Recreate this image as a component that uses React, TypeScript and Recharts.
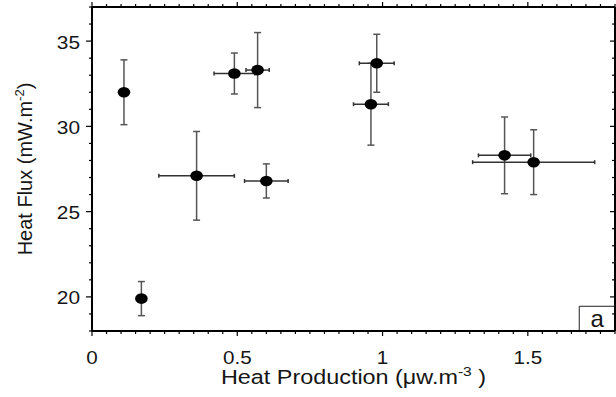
import {
  ScatterChart,
  Scatter,
  XAxis,
  YAxis,
  ErrorBar,
  ReferenceArea,
} from 'recharts';

// heat production (µW/m3) and heat flux (mW/m2) per site, with errors
const heatProduction = [0.11, 0.17, 0.36, 0.49, 0.57, 0.6, 0.98, 0.96, 1.42, 1.52];
const heatFlux = [32.0, 19.9, 27.1, 33.1, 33.3, 26.8, 33.7, 31.3, 28.3, 27.9];
const heatProductionErr = [0, 0, 0.13, 0.07, 0.04, 0.075, 0.06, 0.06, 0.09, 0.21];
const heatFluxErr = [1.9, 1.0, 2.6, 1.2, 2.2, 1.0, 1.7, 2.4, 2.25, 1.9];

const xMajorTicks = [0, 0.5, 1, 1.5];
const xTickLabels = ['0', '0.5', '1', '1.5'];
const xMinorTicks = [
  0, 0.05, 0.1, 0.15, 0.2, 0.25, 0.3, 0.35, 0.4, 0.45, 0.5, 0.55, 0.6, 0.65, 0.7, 0.75,
  0.8, 0.85, 0.9, 0.95, 1, 1.05, 1.1, 1.15, 1.2, 1.25, 1.3, 1.35, 1.4, 1.45, 1.5, 1.55,
  1.6, 1.65, 1.7, 1.75, 1.8,
];
const yMajorTicks = [20, 25, 30, 35];
const yTickLabels = ['20', '25', '30', '35'];
const yMinorTicks = [18, 19, 20, 21, 22, 23, 24, 25, 26, 27, 28, 29, 30, 31, 32, 33, 34, 35, 36, 37];

const X_DOMAIN: [number, number] = [0, 1.8];
const Y_DOMAIN: [number, number] = [18, 37];

const points = heatProduction.map((x, i) => ({
  x,
  y: heatFlux[i],
  ex: heatProductionErr[i],
  ey: heatFluxErr[i],
}));

const FONT = '"Liberation Sans", Arial, Helvetica, sans-serif';
const TXT = '#151515';

function majorIndex(list: number[], v: number) {
  return list.findIndex((m) => Math.abs(m - v) < 1e-6);
}

function BottomTick({ x, y, payload }: any) {
  const i = majorIndex(xMajorTicks, payload.value);
  const major = i >= 0;
  return (
    <g>
      <line x1={x} x2={x} y1={y} y2={y + (major ? 5 : 3)} stroke="#000" strokeWidth={1.2} />
      {major && (
        <text
          transform={`translate(${x},${y + 33}) scale(1.18,1)`}
          textAnchor="middle"
          fontSize={17.5}
          fontFamily={FONT}
          fill={TXT}
        >
          {xTickLabels[i]}
        </text>
      )}
    </g>
  );
}

function TopTick({ x, y, payload }: any) {
  const major = majorIndex(xMajorTicks, payload.value) >= 0;
  return <line x1={x} x2={x} y1={y} y2={y - (major ? 5 : 3)} stroke="#000" strokeWidth={1.2} />;
}

function LeftTick({ x, y, payload }: any) {
  const i = majorIndex(yMajorTicks, payload.value);
  const major = i >= 0;
  return (
    <g>
      <line x1={x} x2={x - (major ? 6 : 3)} y1={y} y2={y} stroke="#000" strokeWidth={1.2} />
      {major && (
        <text
          transform={`translate(${x - 12},${y + 7.5}) scale(1.16,1)`}
          textAnchor="end"
          fontSize={18}
          fontFamily={FONT}
          fill={TXT}
        >
          {yTickLabels[i]}
        </text>
      )}
    </g>
  );
}

function RightTick({ x, y, payload }: any) {
  const major = majorIndex(yMajorTicks, payload.value) >= 0;
  return <line x1={x} x2={x - (major ? 5 : 3)} y1={y} y2={y} stroke="#000" strokeWidth={1.2} />;
}

function XTitle({ viewBox }: any) {
  const cx = viewBox.x + viewBox.width / 2;
  const by = viewBox.y + 53;
  return (
    <text
      transform={`translate(${cx},${by}) scale(1.2,1)`}
      textAnchor="middle"
      fontSize={19.5}
      fontFamily={FONT}
      fill={TXT}
    >
      Heat Production (μw.m
      <tspan dy={-8} fontSize={13}>-3</tspan>
      <tspan dy={8}> )</tspan>
    </text>
  );
}

function YTitle({ viewBox }: any) {
  const cy = viewBox.y + viewBox.height / 2;
  const bx = 32;
  return (
    <text
      transform={`translate(${bx},${cy}) rotate(-90)`}
      textAnchor="middle"
      fontSize={20}
      fontFamily={FONT}
      fill={TXT}
    >
      Heat Flux (mW.m
      <tspan dy={-8} fontSize={13}>-2</tspan>
      <tspan dy={8}>)</tspan>
    </text>
  );
}

function Dot(props: any) {
  return <ellipse cx={props.cx} cy={props.cy} rx={6.3} ry={5.3} fill="#000" />;
}

export default function App() {
  return (
    <div style={{ position: 'absolute', left: 0, top: 0, background: '#fff', fontFamily: FONT }}>
      <ScatterChart width={616} height={397} margin={{ top: 0, right: 0, bottom: 0, left: 0 }}>
        <XAxis
          xAxisId="b"
          type="number"
          dataKey="x"
          domain={X_DOMAIN}
          ticks={xMinorTicks}
          interval={0}
          allowDataOverflow
          height={66}
          tickSize={0}
          tickMargin={0}
          tickLine={false}
          tick={<BottomTick />}
          axisLine={{ stroke: '#000', strokeWidth: 2 }}
          label={<XTitle />}
        />
        <XAxis
          xAxisId="t"
          orientation="top"
          type="number"
          dataKey="x"
          domain={X_DOMAIN}
          ticks={xMinorTicks}
          interval={0}
          allowDataOverflow
          height={7}
          tickSize={0}
          tickMargin={0}
          tickLine={false}
          tick={<TopTick />}
          axisLine={{ stroke: '#000', strokeWidth: 2 }}
        />
        <YAxis
          yAxisId="l"
          type="number"
          dataKey="y"
          domain={Y_DOMAIN}
          ticks={yMinorTicks}
          interval={0}
          allowDataOverflow
          width={92}
          tickSize={0}
          tickMargin={0}
          tickLine={false}
          tick={<LeftTick />}
          axisLine={{ stroke: '#000', strokeWidth: 2 }}
          label={<YTitle />}
        />
        <YAxis
          yAxisId="r"
          orientation="right"
          type="number"
          dataKey="y"
          domain={Y_DOMAIN}
          ticks={yMinorTicks}
          interval={0}
          allowDataOverflow
          width={1}
          tickSize={0}
          tickMargin={0}
          tickLine={false}
          tick={<RightTick />}
          axisLine={{ stroke: '#000', strokeWidth: 2 }}
        />
        <ReferenceArea
          xAxisId="b"
          yAxisId="l"
          x1={1.677}
          x2={1.8}
          y1={18}
          y2={19.45}
          fill="#fff"
          fillOpacity={1}
          stroke="#222"
          strokeWidth={1}
          label={{ value: 'a', position: 'center', fontSize: 24, fill: TXT, fontFamily: FONT }}
        />
        <Scatter
          xAxisId="b"
          yAxisId="l"
          data={points}
          shape={<Dot />}
          isAnimationActive={false}
        >
          <ErrorBar
            dataKey="ey"
            direction="y"
            width={3.5}
            stroke="#555"
            strokeWidth={1.5}
            isAnimationActive={false}
          />
          <ErrorBar
            dataKey="ex"
            direction="x"
            width={2}
            stroke="#333"
            strokeWidth={1.5}
            isAnimationActive={false}
          />
        </Scatter>
      </ScatterChart>
    </div>
  );
}
